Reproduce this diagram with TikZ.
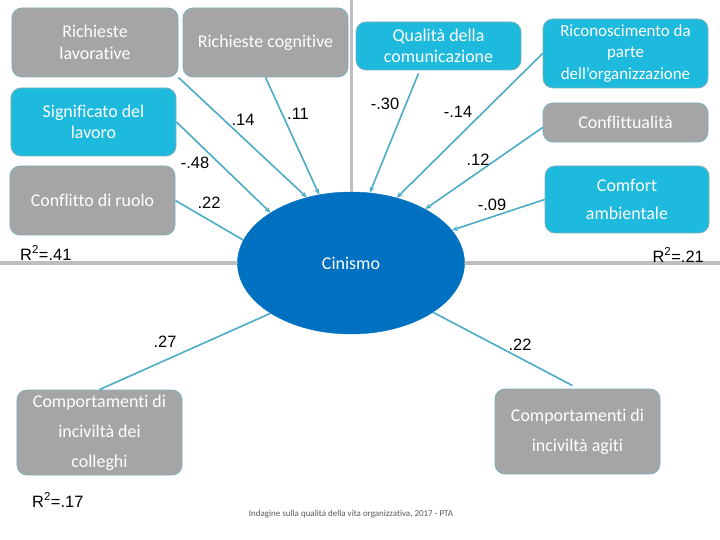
\documentclass[tikz,border=0pt]{standalone}
\usepackage{fontspec}
\setmainfont{Carlito}[Ligatures=NoCommon]
\newfontfamily\arialf{Liberation Sans}
\usetikzlibrary{arrows.meta,shapes.geometric}
\definecolor{boxgray}{RGB}{165,165,165}
\definecolor{boxcyan}{RGB}{30,186,222}
\definecolor{boxedge}{RGB}{125,175,185}
\definecolor{linkc}{RGB}{75,172,198}
\definecolor{cinblue}{RGB}{0,112,192}
\definecolor{axisgray}{RGB}{190,190,190}
\definecolor{footgray}{RGB}{90,90,90}
\tikzset{
  box/.style={draw=boxedge, line width=0.8bp, rounded corners=10bp, text=white, align=center, inner sep=0pt, font=\fontsize{18}{21.5}\selectfont},
  graybox/.style={box, fill=boxgray},
  cyanbox/.style={box, fill=boxcyan},
  link/.style={draw=linkc, line width=1.6bp, -{Stealth[length=6bp,width=5bp]}},
  plainlink/.style={draw=linkc, line width=1.6bp},
  axis/.style={draw=axisgray, line width=3bp},
  coef/.style={font=\arialf\fontsize{16.5}{18}\selectfont, text=black, inner sep=0pt},
}
\begin{document}
\begin{tikzpicture}[x=1bp, y=-1bp]
\useasboundingbox (0,0) rectangle (720,540);
\fill[white] (0,0) rectangle (720,540);
% ellipse
\node[ellipse, fill=cinblue, draw=cinblue, minimum width=227bp, minimum height=142bp, inner sep=0pt, text=white, font=\fontsize{18}{20}\selectfont] (cin) at (351,263) {Cinismo};
% axes
\coordinate (axtop) at (351,0);
\coordinate (axl) at (0,263);
\coordinate (axr) at (720,263);
% boxes
\node[graybox, minimum width=166bp, minimum height=69bp] (rl) at (95,42.5) {Richieste\\lavorative};
\node[graybox, minimum width=165bp, minimum height=69bp] (rc) at (265.5,42.5) {Richieste cognitive};
\node[cyanbox, minimum width=165bp, minimum height=68bp] (sl) at (93.5,122) {Significato del\\lavoro};
\node[cyanbox, minimum width=165bp, minimum height=48bp] (qc) at (438.5,46) {Qualità della\\comunicazione};
\node[cyanbox, minimum width=165bp, minimum height=69bp, font=\fontsize{17}{21.5}\selectfont] (ro) at (625.5,53.5) {Riconoscimento da\\parte\\dell’organizzazione};
\node[graybox, minimum width=165bp, minimum height=39bp] (co) at (625.5,122.5) {Conflittualità};
\node[graybox, minimum width=165bp, minimum height=69bp] (cr) at (92.5,200.5) {Conflitto di ruolo};
\node[cyanbox, minimum width=164bp, minimum height=67bp, font=\fontsize{18}{28}\selectfont] (ca) at (627,199.5) {Comfort\\ambientale};
\node[graybox, minimum width=165bp, minimum height=85bp, font=\fontsize{18}{30}\selectfont] (cc) at (99.5,432.5) {Comportamenti di\\inciviltà dei\\colleghi};
\node[graybox, minimum width=165bp, minimum height=85bp, font=\fontsize{18}{30}\selectfont] (ag) at (577.5,431.5) {Comportamenti di\\inciviltà agiti};
% gray axes
\draw[axis] (axtop) -- (cin.north);
\draw[axis] (axl) -- (cin.west);
\draw[axis] (cin.east) -- (axr);
% incoming links
\draw[link] (rl.south east) -- (cin.124);
\draw[link] (rc.south) -- (cin.115);
\draw[link] (sl.east) -- (cin.148);
\draw[plainlink] (cr.east) -- (cin.168);
\draw[link] ([xshift=-20bp,yshift=-3bp]qc.south) -- (cin.75);
\draw[link] (ro.west) -- (cin.55);
\draw[link] ([yshift=-5bp]co.west) -- (cin.36);
\draw[link] (ca.west) -- (cin.18);
% outgoing links
\draw[plainlink] (cin.212) -- (cc.north);
\draw[plainlink] (cin.329) -- ([xshift=-5bp,yshift=3bp]ag.north);
% coefficients
\node[coef] (k1) at (243,120) {.14};
\node[coef] (k2) at (298,114) {.11};
\node[coef] (k3) at (385,104) {-.30};
\node[coef] (k4) at (458,112) {-.14};
\node[coef] (k5) at (478,160) {.12};
\node[coef] (k6) at (195,163) {-.48};
\node[coef] (k7) at (209,203) {.22};
\node[coef] (k8) at (492,205) {-.09};
\node[coef] (k9) at (165,342) {.27};
\node[coef] (k10) at (520,345) {.22};
\node[coef, anchor=west] (r1) at (20,253) {R\textsuperscript{2}=.41};
\node[coef, anchor=east] (r2) at (704,255) {R\textsuperscript{2}=.21};
\node[coef, anchor=west] (r3) at (32,500) {R\textsuperscript{2}=.17};
\node[font=\fontsize{9}{10}\selectfont, text=footgray, inner sep=0pt] (ft) at (351,514) {Indagine sulla qualità della vita organizzativa, 2017 - PTA};
\end{tikzpicture}
\end{document}
